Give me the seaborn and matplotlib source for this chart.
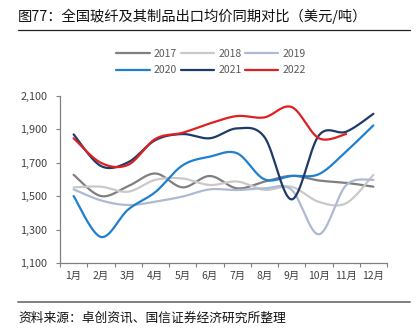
import numpy as np
import pandas as pd
import matplotlib
matplotlib.use("Agg")
import matplotlib.pyplot as plt
from matplotlib.lines import Line2D
import seaborn as sns

# Monthly average export price of glass fibre and products (USD/ton)
months = ["1月", "2月", "3月", "4月", "5月", "6月", "7月", "8月", "9月", "10月", "11月", "12月"]
years = ["2017", "2018", "2019", "2020", "2021", "2022"]
price_2017 = [1628, 1501, 1560, 1636, 1553, 1621, 1547, 1587, 1622, 1594, 1580, 1557]
price_2018 = [1553, 1557, 1527, 1598, 1606, 1567, 1588, 1538, 1556, 1466, 1458, 1628]
price_2019 = [1541, 1475, 1447, 1467, 1498, 1541, 1537, 1547, 1538, 1272, 1566, 1598]
price_2020 = [1501, 1256, 1420, 1525, 1685, 1737, 1757, 1601, 1621, 1632, 1768, 1924]
price_2021 = [1870, 1681, 1703, 1836, 1872, 1847, 1906, 1855, 1481, 1864, 1886, 1993]
price_2022 = [1847, 1700, 1688, 1843, 1880, 1936, 1980, 1972, 2034, 1847, 1872]
y_ticks = [1100, 1300, 1500, 1700, 1900, 2100]

series = dict(zip(years, [price_2017, price_2018, price_2019,
                          price_2020, price_2021, price_2022]))
palette = {"2017": "#7f7f7f", "2018": "#c9c9c9", "2019": "#aebad3",
           "2020": "#1f7fd0", "2021": "#1f3a68", "2022": "#e02020"}


def smooth(vals, steps=30):
    """Catmull-Rom spline through the monthly points (smoothed line)."""
    p = np.asarray(vals, dtype=float)
    x = np.arange(len(p), dtype=float)
    px = np.concatenate([[x[0]], x, [x[-1]]])
    py = np.concatenate([[p[0]], p, [p[-1]]])
    xs, ys = [], []
    for i in range(1, len(px) - 2):
        t = np.linspace(0, 1, steps, endpoint=(i == len(px) - 3))
        x0, x1, x2, x3 = px[i - 1:i + 3]
        y0, y1, y2, y3 = py[i - 1:i + 3]
        h00 = 2 * t**3 - 3 * t**2 + 1
        h10 = t**3 - 2 * t**2 + t
        h01 = -2 * t**3 + 3 * t**2
        h11 = t**3 - t**2
        mx1, mx2 = (x2 - x0) / 2, (x3 - x1) / 2
        my1, my2 = (y2 - y0) / 2, (y3 - y1) / 2
        xs.append(h00 * x1 + h10 * mx1 + h01 * x2 + h11 * mx2)
        ys.append(h00 * y1 + h10 * my1 + h01 * y2 + h11 * my2)
    return np.concatenate(xs), np.concatenate(ys)


frames = []
for yr in years:
    sx, sy = smooth(series[yr])
    frames.append(pd.DataFrame({"pos": sx, "price": sy, "year": yr}))
df = pd.concat(frames, ignore_index=True)

sns.set_style("white")
plt.rcParams["font.family"] = ["Noto Sans CJK SC", "DejaVu Sans"]

fig = plt.figure(figsize=(4.18, 3.36), dpi=100)
ax = fig.add_axes([60 / 418, 1 - 263 / 336, 327 / 418, 167 / 336])

sns.lineplot(data=df, x="pos", y="price", hue="year", palette=palette,
             hue_order=years, sort=False, linewidth=1.6, ax=ax, legend=True)

ax.set_xlim(-0.5, 11.5)
ax.set_ylim(1100, 2100)
ax.set_yticks(y_ticks)
ax.set_yticklabels([f"{v:,}" for v in y_ticks])
ax.set_xticks(np.arange(-0.5, 12, 1.0))
ax.set_xticklabels([])
ax.set_xticks(np.arange(12), minor=True)
ax.set_xticklabels(months, minor=True)
ax.tick_params(axis="x", which="major", length=3, width=0.8, color="#808080",
               direction="out", bottom=True)
ax.tick_params(axis="x", which="minor", length=0, pad=6, labelsize=7.5,
               labelcolor="#404040")
ax.tick_params(axis="y", length=3, width=0.8, color="#808080", direction="out",
               left=True, labelsize=7.8, labelcolor="#404040", pad=6)
ax.set_xlabel("")
ax.set_ylabel("")
for s in ["top", "right"]:
    ax.spines[s].set_visible(False)
for s in ["left", "bottom"]:
    ax.spines[s].set_color("#808080")
    ax.spines[s].set_linewidth(0.9)

handles, labels = ax.get_legend_handles_labels()
ax.get_legend().remove()
lookup = dict(zip(labels, handles))
order = ["2017", "2020", "2018", "2021", "2019", "2022"]
fig.legend([lookup[k] for k in order], order, ncol=3, frameon=False,
           loc="center", bbox_to_anchor=(211 / 418, 1 - 62 / 336),
           fontsize=7.5, handlelength=3.2, columnspacing=0.35,
           handletextpad=0.4, labelspacing=0.62, labelcolor="#595959")

fig.text(18 / 418, 1 - 16 / 336, "图77：全国玻纤及其制品出口均价同期对比（美元/吨）",
         fontsize=10.3, color="#111111", va="center", ha="left")
fig.add_artist(Line2D([18 / 418, 410 / 418], [1 - 30 / 336, 1 - 30 / 336],
                      color="#222222", linewidth=0.9))
fig.add_artist(Line2D([18 / 418, 410 / 418], [1 - 302 / 336, 1 - 302 / 336],
                      color="#808080", linewidth=1.4))
fig.text(18 / 418, 1 - 318 / 336, "资料来源：卓创资讯、国信证券经济研究所整理",
         fontsize=9.2, color="#111111", va="center", ha="left")

fig.savefig("out.png", dpi=100)
